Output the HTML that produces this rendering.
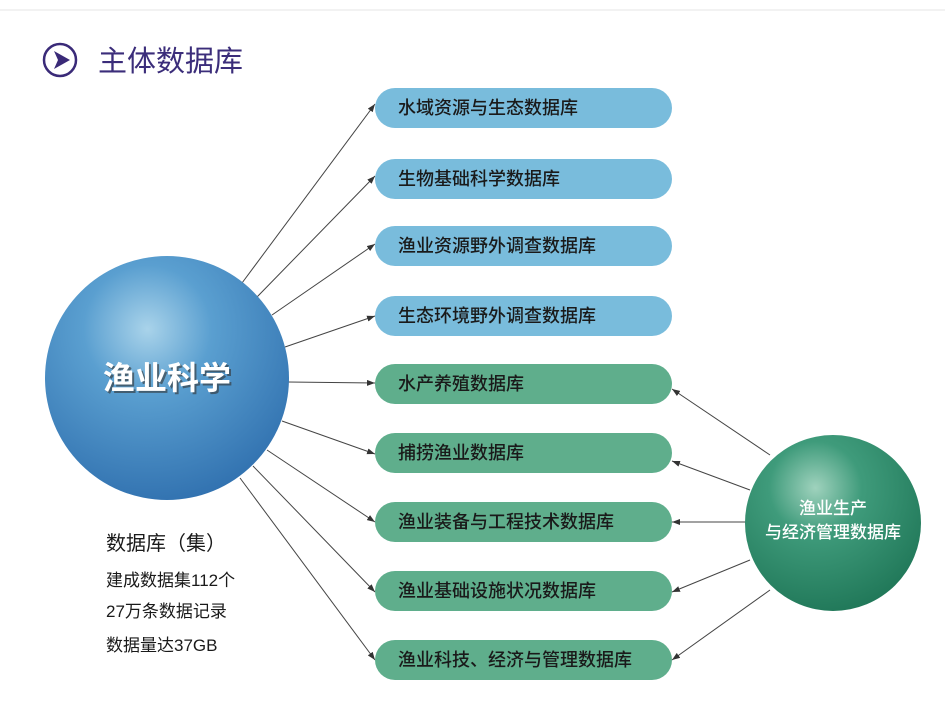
<!DOCTYPE html>
<html><head><meta charset="utf-8"><style>
body{margin:0;width:945px;height:718px;background:#fff;overflow:hidden;font-family:"Liberation Sans","Noto Sans CJK SC",sans-serif;}
</style></head><body>
<svg width="945" height="718" xmlns="http://www.w3.org/2000/svg" style="position:absolute;left:0;top:0">
<defs>
<radialGradient id="bg" cx="0.42" cy="0.3" r="0.75">
<stop offset="0" stop-color="#a9d3ea"/><stop offset="0.35" stop-color="#5a9fd0"/><stop offset="1" stop-color="#2f6fae"/></radialGradient>
<radialGradient id="gg" cx="0.4" cy="0.3" r="0.75">
<stop offset="0" stop-color="#9fd2bd"/><stop offset="0.35" stop-color="#3f9b7b"/><stop offset="1" stop-color="#1f7657"/></radialGradient>
<marker id="ar" markerWidth="8" markerHeight="6" refX="8" refY="3" orient="auto" markerUnits="userSpaceOnUse"><path d="M0,0 L8,3 L0,6 z" fill="#333"/></marker>
</defs>
<line x1="0" y1="10" x2="945" y2="10" stroke="#eee" stroke-width="1.5"/>
<circle cx="60" cy="60" r="16" fill="none" stroke="#3a2a78" stroke-width="2.5"/>
<path d="M54,51 L70,60 L54,69 L58,60 z" fill="#3a2a78"/>
<text x="98" y="71" font-size="29" fill="#3b2d7a">主体数据库</text>
<g stroke="#444" stroke-width="1" marker-end="url(#ar)">
<line x1="242" y1="283" x2="375" y2="104"/>
<line x1="257" y1="297" x2="375" y2="176"/>
<line x1="272" y1="315" x2="375" y2="244"/>
<line x1="285" y1="347" x2="375" y2="316"/>
<line x1="288" y1="382" x2="375" y2="383"/>
<line x1="282" y1="421" x2="375" y2="454"/>
<line x1="267" y1="450" x2="375" y2="522"/>
<line x1="253" y1="466" x2="375" y2="592"/>
<line x1="240" y1="478" x2="375" y2="660"/>
<line x1="770" y1="455" x2="672" y2="389"/>
<line x1="750" y1="490" x2="672" y2="461"/>
<line x1="748" y1="522" x2="672" y2="522"/>
<line x1="750" y1="560" x2="672" y2="592"/>
<line x1="770" y1="590" x2="672" y2="660"/>
</g>
<circle cx="167" cy="378" r="122" fill="url(#bg)"/>
<text x="169" y="391" font-size="32" font-weight="bold" fill="#333" text-anchor="middle" opacity="0.6">渔业科学</text>
<text x="167" y="389" font-size="32" font-weight="bold" fill="#fff" text-anchor="middle">渔业科学</text>
<circle cx="833" cy="523" r="88" fill="url(#gg)"/>
<g font-size="17" font-weight="500" fill="#fff" text-anchor="middle"><text x="833" y="514">渔业生产</text><text x="833" y="538">与经济管理数据库</text></g>
<g fill="#79bcdc"><rect x="375" y="88" width="297" height="40" rx="20"/><rect x="375" y="159" width="297" height="40" rx="20"/><rect x="375" y="226" width="297" height="40" rx="20"/><rect x="375" y="296" width="297" height="40" rx="20"/></g>
<g fill="#5fae8c"><rect x="375" y="364" width="297" height="40" rx="20"/><rect x="375" y="433" width="297" height="40" rx="20"/><rect x="375" y="502" width="297" height="40" rx="20"/><rect x="375" y="571" width="297" height="40" rx="20"/><rect x="375" y="640" width="297" height="40" rx="20"/></g>
<g font-size="18" font-weight="500" fill="#1a1a1a">
<text x="398" y="114">水域资源与生态数据库</text>
<text x="398" y="185">生物基础科学数据库</text>
<text x="398" y="252">渔业资源野外调查数据库</text>
<text x="398" y="322">生态环境野外调查数据库</text>
<text x="398" y="390">水产养殖数据库</text>
<text x="398" y="459">捕捞渔业数据库</text>
<text x="398" y="528">渔业装备与工程技术数据库</text>
<text x="398" y="597">渔业基础设施状况数据库</text>
<text x="398" y="666">渔业科技、经济与管理数据库</text>
</g>
<g fill="#1a1a1a">
<text x="106" y="550" font-size="20">数据库（集）</text>
<text x="106" y="586" font-size="17">建成数据集112个</text>
<text x="106" y="617" font-size="17">27万条数据记录</text>
<text x="106" y="651" font-size="17">数据量达37GB</text>
</g>
</svg>
</body></html>
